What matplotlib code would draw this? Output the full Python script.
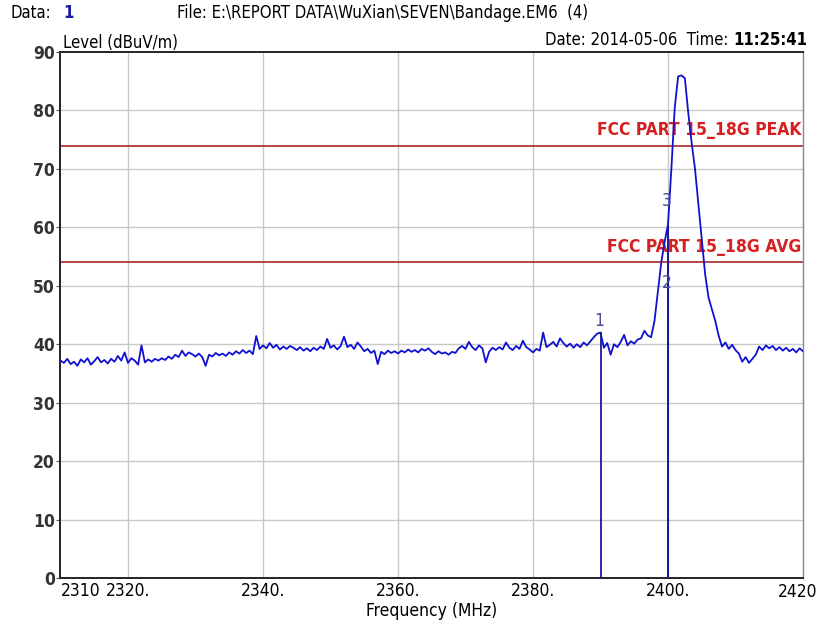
import matplotlib
matplotlib.use("Agg")
import matplotlib.pyplot as plt
from matplotlib import font_manager as fm
import numpy as np

# ---------------- data ----------------
f_start, f_stop, f_step = 2310.0, 2420.0, 0.5
level = [
    37.2, 36.8, 37.5, 36.6, 37.0, 36.3, 37.4, 36.9, 37.6, 36.5,
    37.1, 37.8, 36.9, 37.3, 36.7, 37.5, 37.0, 38.0, 37.2, 38.6,
    36.8, 37.6, 37.2, 36.5, 39.8, 36.9, 37.4, 37.0, 37.5, 37.2,
    37.6, 37.3, 37.9, 37.5, 38.2, 37.8, 38.9, 38.0, 38.6, 38.3,
    37.9, 38.4, 37.8, 36.3, 38.2, 37.9, 38.5, 38.1, 38.4, 38.0,
    38.6, 38.2, 38.8, 38.4, 39.0, 38.5, 38.9, 38.3, 41.4, 39.2,
    39.8, 39.3, 40.2, 39.4, 39.9, 39.1, 39.6, 39.2, 39.7, 39.4,
    39.0, 39.5, 38.9, 39.3, 38.8, 39.4, 39.0, 39.6, 39.2, 40.9,
    39.4, 39.8, 39.1, 39.7, 41.3, 39.5, 39.9, 39.2, 40.3, 39.6,
    38.8, 39.2, 38.5, 38.9, 36.6, 38.7, 38.3, 38.9, 38.5, 38.8,
    38.4, 38.9, 38.6, 39.1, 38.7, 39.0, 38.6, 39.2, 38.9, 39.3,
    38.7, 38.3, 38.8, 38.4, 38.6, 38.2, 38.7, 38.5, 39.3, 39.7,
    39.2, 40.4, 39.5, 39.0, 39.8, 39.3, 36.9, 38.7, 39.4, 39.0,
    39.5, 39.1, 40.3, 39.4, 39.0, 39.7, 39.2, 40.6, 39.5, 39.1,
    38.6, 39.2, 38.9, 42.0, 39.5, 39.9, 40.4, 39.6, 41.0, 40.2,
    39.6, 40.1, 39.4, 40.0, 39.5, 40.3, 39.8, 40.5, 41.2, 41.8,
    42.0, 39.4, 40.2, 38.2, 40.0, 39.5, 40.4, 41.6, 39.8, 40.5,
    40.1, 40.8, 41.0, 42.3, 41.5, 41.2, 44.0, 49.0, 54.0, 57.5,
    60.5, 70.0, 80.5, 85.8, 86.0, 85.5, 79.6, 74.5, 70.0, 64.0,
    58.0, 52.0, 48.0, 46.0, 44.0, 41.5, 39.6, 40.3, 39.2, 39.9,
    39.0, 38.4, 37.0, 37.8, 36.8, 37.5, 38.2, 39.6, 39.0, 39.8,
    39.3, 39.7, 39.0, 39.5, 38.9, 39.4, 38.8, 39.2, 38.6, 39.3,
    38.8,
]
freq = np.arange(len(level)) * f_step + f_start

limit_names = ["FCC PART 15_18G PEAK", "FCC PART 15_18G AVG"]
limit_values = [74, 54]

marker_labels = ["1", "2", "3"]
marker_freqs = [2390.0, 2400.0, 2400.0]
marker_label_levels = [44.0, 50.5, 64.5]

xticks = [2310, 2320, 2340, 2360, 2380, 2400, 2420]
xticklabels = ["2310", "2320.", "2340.", "2360.", "2380.", "2400.", "2420"]
yticks = [0, 10, 20, 30, 40, 50, 60, 70, 80, 90]

# ---------------- font choice ----------------
cond = None
try:
    p = fm.findfont(fm.FontProperties(family="DejaVu Sans", stretch="condensed"),
                    fallback_to_default=False)
    if "ondensed" in p:
        cond = p
except Exception:
    cond = None
if cond is not None:
    FP = dict(family="DejaVu Sans", stretch="condensed")
    k = 1.0
else:
    FP = dict(family="Liberation Sans")
    k = 0.88

# ---------------- figure ----------------
W, H = 818, 628
fig = plt.figure(figsize=(W / 100, H / 100), dpi=100)

ax = fig.add_axes([60.5 / W, 1 - 578 / H, (803 - 60.5) / W, (578 - 52) / H])
ax.set_xlim(2310, 2420)
ax.set_ylim(0, 90)

# grid
for x in xticks[1:-1]:
    ax.axvline(x, color="#c8c8c8", lw=1.0, zorder=0)
for y in yticks[1:-1]:
    ax.axhline(y, color="#c8c8c8", lw=1.0, zorder=0)

# limits
for name, v in zip(limit_names, limit_values):
    ax.axhline(v, color="#a82a2a", lw=1.2, zorder=2)
    ax.text(2419.8, v + 1.1, name, color="#d42020", fontsize=12.5 * k,
            ha="right", va="bottom", fontweight="bold", zorder=3, **FP)

# trace
ax.plot(freq, level, color="#1010d0", lw=1.3, zorder=4)

# markers
lvl = np.array(level)
for lab, mf, ml in zip(marker_labels, marker_freqs, marker_label_levels):
    top = float(np.interp(mf, freq, lvl))
    ax.plot([mf, mf], [0, top], color="#1a1a9a", lw=1.3, zorder=5)
    ax.text(mf - 0.15, ml, lab, color="#4a4aa0", fontsize=12.5 * k,
            ha="center", va="center", zorder=6, **FP)

# ticks
ax.set_xticks(xticks)
ax.set_xticklabels(xticklabels[:-1] + [""], fontsize=12.5 * k, **FP)
labs = ax.get_xticklabels()
labs[0].set_ha("left")
ax.set_yticks(yticks)
ax.set_yticklabels([str(t) for t in yticks], fontsize=12.5 * k, color="#333333",
                   fontweight="bold", **FP)
ax.tick_params(axis="x", length=0, pad=3)
ax.tick_params(axis="y", length=3, color="#555555", pad=1)
# last x label sits right at the figure edge
fig.text(817 / W, 1 - 592 / H, xticklabels[-1], fontsize=12.5 * k,
         ha="right", va="center", **FP)

for s in ["left", "bottom", "top"]:
    ax.spines[s].set_color("#222222")
    ax.spines[s].set_linewidth(1.4)
ax.spines["right"].set_color("#888888")
ax.spines["right"].set_linewidth(1.0)

ax.set_xlabel("Frequency (MHz)", fontsize=12.5 * k, labelpad=1, **FP)

# header texts
hs = 12.0 * k
fig.text(10 / W, 1 - 13 / H, "Data:", fontsize=hs, ha="left",
         va="center", **FP)
fig.text(63 / W, 1 - 13 / H, "1", fontsize=hs, ha="left", va="center",
         color="#1a1aa0", fontweight="bold", **FP)
fig.text(177 / W, 1 - 13 / H,
         "File: E:\\REPORT DATA\\WuXian\\SEVEN\\Bandage.EM6  (4)",
         fontsize=hs, ha="left", va="center", **FP)
fig.text(63 / W, 1 - 43 / H, "Level (dBuV/m)", fontsize=hs,
         ha="left", va="center", **FP)

t_time = fig.text(807 / W, 1 - 40 / H, "11:25:41", fontsize=hs, ha="right",
                  va="center", fontweight="bold", **FP)
renderer = fig.canvas.get_renderer()
bb = t_time.get_window_extent(renderer=renderer)
fig.text(bb.x0 / W, 1 - 40 / H, "Date: 2014-05-06  Time: ", fontsize=hs,
         ha="right", va="center", **FP)

fig.savefig("out.png", dpi=100)
